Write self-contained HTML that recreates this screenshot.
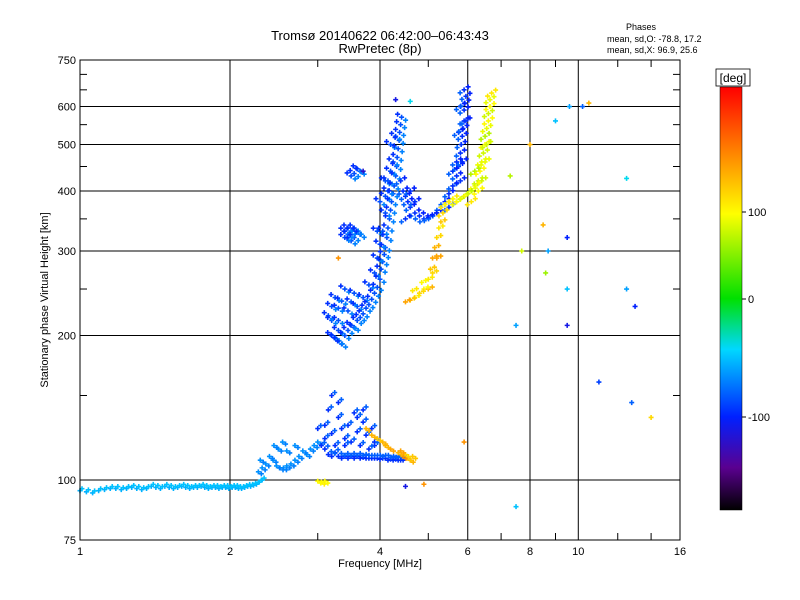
<!DOCTYPE html>
<html><head><meta charset="utf-8"><style>
body{margin:0;background:#fff;}
svg{display:block;font-family:"Liberation Sans","DejaVu Sans",sans-serif;}
</style></head><body>
<svg id="c" width="800" height="600" xmlns="http://www.w3.org/2000/svg">
<defs><linearGradient id="cb" x1="0" y1="1" x2="0" y2="0">
<stop offset="0" stop-color="#000"/><stop offset="0.1" stop-color="#5a0090"/><stop offset="0.22" stop-color="#0020ff"/><stop offset="0.38" stop-color="#00d8ff"/><stop offset="0.5" stop-color="#00e000"/><stop offset="0.7" stop-color="#ffff00"/><stop offset="0.85" stop-color="#ff8000"/><stop offset="1" stop-color="#ff0000"/>
</linearGradient></defs>
<text x="380" y="40" text-anchor="middle" font-size="13">Tromsø 20140622 06:42:00–06:43:43</text>
<text x="380" y="53" text-anchor="middle" font-size="13">RwPretec (8p)</text>
<text x="641" y="30" text-anchor="middle" font-size="9">Phases</text>
<text x="607" y="42" font-size="9">mean, sd,O: -78.8, 17.2</text>
<text x="607" y="53" font-size="9">mean, sd,X:  96.9, 25.6</text>
<text x="48" y="300" text-anchor="middle" font-size="11" transform="rotate(-90 48 300)">Stationary phase Virtual Height [km]</text>
<text x="380" y="567" text-anchor="middle" font-size="11">Frequency [MHz]</text>
<g id="grid"></g><g id="pts"></g>
<rect x="80" y="60" width="600" height="480" fill="none" stroke="#000" stroke-width="1"/>
<g>
<rect x="720" y="87" width="22" height="423" fill="url(#cb)" stroke="#000" stroke-width="0.5"/>
<rect x="716" y="69" width="34" height="17" fill="#fff" stroke="#000" stroke-width="0.8"/>
<text x="733" y="82" text-anchor="middle" font-size="12">[deg]</text>
<line x1="742" y1="212" x2="746" y2="212" stroke="#000"/><text x="748" y="216" font-size="11">100</text>
<line x1="742" y1="299" x2="746" y2="299" stroke="#000"/><text x="748" y="303" font-size="11">0</text>
<line x1="742" y1="417" x2="746" y2="417" stroke="#000"/><text x="748" y="421" font-size="11">-100</text>
</g>
</svg>
<script>
const xTickVals=[1,2,4,6,8,10,16];
const yTickVals=[75,100,200,300,400,500,600,750];
const xMinor=[3,5,7,9,12,14];
const yMinor=[150,250,350,450,550,650,700];
const eFreq=[1.00,1.03,1.06,1.09,1.12,1.15,1.18,1.21,1.24,1.27,1.30,1.33,1.36,1.39,1.42,1.45,1.48,1.51,1.54,1.57,1.60,1.63,1.66,1.69,1.72,1.75,1.78,1.81,1.84,1.87,1.90,1.93,1.96,1.99,2.02,2.05,2.08,2.11,2.14,2.17,2.20,2.23,2.26,2.29,2.32];
const eHeight=[95,94.5,94,95,95.5,96,96,95.5,96,96.5,96,95.5,96,97,96.5,96,97,96.5,96,96.5,97,96.5,96,96.5,96.5,97,96.5,96,96.5,96.5,96,96.5,96.5,96,96.5,96.5,96,96,96.5,97,97,97.5,98,99,100];
const riseFreq=[2.28,2.32,2.36,2.40,2.44,2.48,2.52,2.56,2.60,2.65,2.70,2.75,2.80,2.85,2.90,2.95,3.00,2.60,2.55,2.30,2.45,2.50,2.70];
const riseHeight=[104,106,108,112,110,107,106,106,107,108,110,112,115,113,116,118,120,115,120,110,118,116,118];
const esFreq=[3.05,3.1,3.15,3.2,3.25,3.3,3.35,3.4,3.45,3.5,3.55,3.6,3.65,3.7,3.75,3.8,3.85,3.9,3.95,4.0,4.05,4.1,4.15,4.2,4.25,4.3,4.35,4.4,4.45,3.1,3.15,3.2,3.25,3.3,3.35,3.4,3.45,3.5,3.55,3.6,3.65,3.7,3.75,3.8,3.85,3.9,3.3,3.2,3.6,3.7,3.0,3.1,3.4,3.9];
const esHeight=[118,116,113,112,114,112,111,112,111,112,111,112,111,111.5,111,111,111,111,111,110.5,111,111,110,110.5,110,110.5,110,110,110,130,140,125,118,135,128,122,130,120,138,126,118,132,124,116,128,120,145,150,135,140,128,122,118,118];
const esxFreq=[3.75,3.85,3.95,4.05,4.2,4.35,4.45,4.55,4.6,4.5,4.1,4.65,4.4,3.0,3.05,3.1];
const esxHeight=[128,124,122,120,116,114,112,111,110,113,118,112,115,99.5,99,99.5];
const esxPhase=[140,140,130,140,150,140,160,130,140,120,140,130,150,100,105,100];
const foFreq=[3.2,3.25,3.3,3.35,3.3,3.4,3.45,3.5,3.55,3.6,3.65,3.7,3.75,3.8,3.85,3.9,3.95,4.0,4.02,4.05,4.08,4.1,4.13,4.15,4.18,4.2,4.22,4.25,4.27,4.3,4.32,4.33,4.35,4.37,4.38,4.4,4.42,3.2,3.25,3.3,3.35,3.4,3.45,3.5,3.55,3.6,3.15,3.2,3.3,3.7,3.8,3.9,3.95,4.0,4.05,4.1,4.1,4.15,4.2,4.25,4.1,4.0,4.2,4.3,3.95,4.15,3.4,3.45,3.5,3.55,3.6,3.65,3.5,3.45,3.55,3.4,3.5,3.55,3.6,3.65];
const foHeight=[200,198,195,192,205,200,205,210,208,215,218,222,228,232,238,245,252,262,275,285,295,305,320,335,350,365,380,395,410,430,450,470,490,510,530,550,570,230,240,228,236,250,225,235,245,230,220,215,215,240,255,270,290,310,330,360,390,420,440,460,420,380,500,520,330,400,320,325,330,335,330,325,315,335,320,330,430,435,445,440];
const f2Freq=[4.4,4.45,4.5,4.55,4.6,4.7,4.8,4.9,5.0,5.1,5.2,5.3,5.4,5.5,5.6,5.7,5.75,5.8,5.82,5.85,5.87,5.9,5.9,5.92,5.95,5.9,5.8,5.7,5.85,5.6,4.6,4.5,4.7,5.5,5.8,5.95,5.75];
const f2Height=[420,400,390,380,370,360,355,350,352,355,360,370,380,395,410,430,450,480,500,520,540,560,590,610,630,650,420,460,460,440,400,350,380,370,600,560,530];
const xlFreq=[4.5,4.6,4.7,4.8,4.9,5.0,5.05,5.1,5.15,5.2,5.25,5.3,4.85,5.0,4.65,5.1,5.2];
const xlHeight=[235,237,240,245,250,262,275,290,305,320,335,345,258,250,248,270,290];
const xlPhase=[150,130,110,120,100,110,130,150,140,120,110,130,100,140,110,120,150];
const xuFreq=[5.35,5.4,5.5,5.6,5.7,5.8,5.9,6.0,6.1,6.2,6.3,6.35,6.4,6.45,6.5,6.5,6.55,6.6,6.6,6.65,6.65,6.7,6.2,6.4,6.1,6.5,6.55,6.3];
const xuHeight=[360,375,380,385,380,385,390,395,400,410,420,440,460,480,500,520,540,560,580,600,620,640,440,420,380,460,500,400];
const xuPhase=[120,110,100,110,90,100,80,70,90,100,80,100,90,80,100,70,90,100,80,100,90,110,70,80,110,90,80,100];
const strayFreq=[4.3,4.6,9.6,10.2,10.5,12.5,9.5,8.5,8.7,8.6,9.5,12.5,13,9.5,7.5,7.3,8.0,9.0,11,12.8,14,7.5,5.9,7.7,3.7,3.3,4.5,4.9];
const strayHeight=[620,615,600,600,610,425,320,340,300,270,250,250,230,210,210,430,500,560,160,145,135,88,120,300,440,290,97,98];
const strayPhase=[-110,-40,-60,-80,140,-40,-100,140,-60,60,-50,-60,-100,-110,-60,70,140,-50,-90,-80,120,-50,160,80,-120,160,-110,160];
const X=f=>80+150*Math.log2(f);
const Y=h=>540-480*Math.log10(h/75);
function col(p){
  let t=p>=0?0.5+p*0.00205:0.5+p*0.0028; t=Math.max(0,Math.min(1,t));
  const s=[[0,0,0,0],[0.1,90,0,144],[0.22,0,32,255],[0.38,0,216,255],[0.5,0,224,0],[0.7,255,255,0],[0.85,255,128,0],[1,255,0,0]];
  for(let i=1;i<s.length;i++){if(t<=s[i][0]){const a=s[i-1],b=s[i],k=(t-a[0])/(b[0]-a[0]);return `rgb(${Math.round(a[1]+k*(b[1]-a[1]))},${Math.round(a[2]+k*(b[2]-a[2]))},${Math.round(a[3]+k*(b[3]-a[3]))})`;}}
  return 'red';
}
const NS='http://www.w3.org/2000/svg';
const grid=document.getElementById('grid');
function ln(x1,y1,x2,y2,w){const l=document.createElementNS(NS,'line');l.setAttribute('x1',x1);l.setAttribute('y1',y1);l.setAttribute('x2',x2);l.setAttribute('y2',y2);l.setAttribute('stroke','#000');l.setAttribute('stroke-width',w);grid.appendChild(l);return l;}
function tx(x,y,s,a){const t=document.createElementNS(NS,'text');t.setAttribute('x',x);t.setAttribute('y',y);t.setAttribute('text-anchor',a);t.setAttribute('font-size','11');t.textContent=s;grid.appendChild(t);return t;}
xTickVals.forEach(v=>{const x=X(v);
  if(v>1&&v<16){const l=ln(x,60,x,540,1);}
  const t=tx(x,555,String(v),'middle');});
xMinor.forEach(v=>{const x=X(v);ln(x,540,x,533,1);ln(x,60,x,67,1);});
yTickVals.forEach(v=>{const y=Y(v);
  if(v>75&&v<750){const l=ln(80,y,680,y,1);}
  const t=tx(76,y+4,String(v),'end');});
yMinor.forEach(v=>{const y=Y(v);ln(80,y,87,y,1);ln(673,y,680,y,1);});
const pts=document.getElementById('pts');
function plot(fs,hs,ph,name,dx,dy){
  dx=dx||0;dy=dy||0;
  fs.forEach((f,i)=>{const x=X(f)+dx,y=Y(hs[i])+dy;const p=typeof ph==='number'?ph:ph[i];
    const m=document.createElementNS(NS,'path');
    m.setAttribute('d',`M${x-2.5},${y}H${x+2.5}M${x},${y-2.5}V${y+2.5}`);
    m.setAttribute('stroke',col(p));m.setAttribute('stroke-width','1.6');
    
    
    pts.appendChild(m);});
}
plot(eFreq,eHeight,-55,'e-layer-point');
plot(eFreq,eHeight,-50,'e-layer-point',2,-2);
plot(riseFreq,riseHeight,-65,'e-rise-point');
plot(riseFreq,riseHeight,-70,'e-rise-point',3,2);
plot(esFreq,esHeight,-95,'es-o-point');
plot(esFreq,esHeight,-80,'es-o-point',3,-3);
plot(esxFreq,esxHeight,esxPhase,'es-x-point');
plot(esxFreq,esxHeight,esxPhase,'es-x-point',3,2);
plot(foFreq,foHeight,-85,'f-o-point');
plot(foFreq,foHeight,-70,'f-o-point',4,3);
plot(foFreq,foHeight,-95,'f-o-point',-4,-3);
plot(f2Freq,f2Height,-95,'f2-o-point');
plot(f2Freq,f2Height,-80,'f2-o-point',-4,3);
plot(f2Freq,f2Height,-100,'f2-o-point',4,-3);
plot(xlFreq,xlHeight,xlPhase,'f-x-lower-point');
plot(xlFreq,xlHeight,xlPhase,'f-x-lower-point',4,-2);
plot(xuFreq,xuHeight,xuPhase,'f-x-upper-point');
plot(xuFreq,xuHeight,xuPhase,'f-x-upper-point',-4,3);
plot(xuFreq,xuHeight,xuPhase,'f-x-upper-point',4,-3);
plot(strayFreq,strayHeight,strayPhase,'stray-point');
</script>
</body></html>
